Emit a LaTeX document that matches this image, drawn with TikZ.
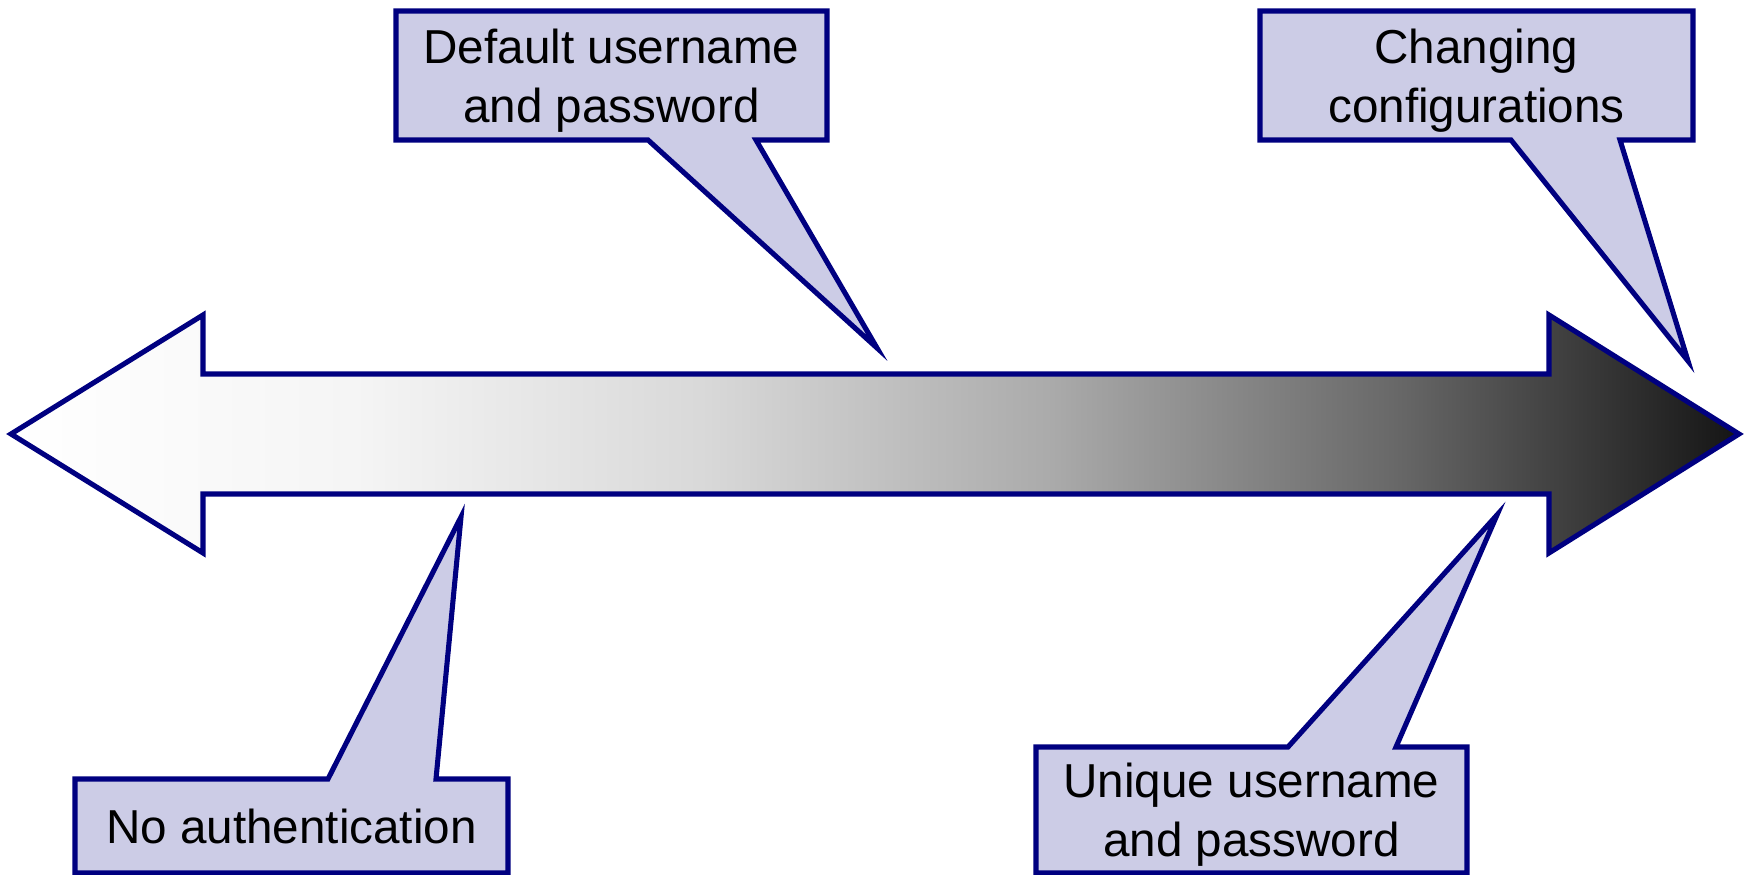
\documentclass[tikz,border=0pt]{standalone}
\usepackage{fontspec}
\setmainfont{Liberation Sans}
\usepackage{tkz-euclide}
\usetikzlibrary{calc}
\definecolor{navyline}{RGB}{0,0,128}
\definecolor{bubblefill}{RGB}{204,204,230}
\pgfdeclarehorizontalshading{arrowshade}{100bp}{color(0bp)=(white); color(25bp)=(white);
  color(35bp)=(black!4); color(45bp)=(black!15); color(55bp)=(black!33);
  color(65bp)=(black!59); color(75bp)=(black!92); color(100bp)=(black!92)}
\tikzset{bubble/.style={draw=navyline, fill=bubblefill, line width=1.45pt},
  bubbletext/.style={align=center, inner sep=0pt, text depth=0pt,
    font=\fontsize{13.55}{16.8}\selectfont}}

\begin{document}
\begin{tikzpicture}
    \useasboundingbox (0,0) rectangle (17.51,8.75);
    % double arrow
    \tkzDefPoints{0.11/4.41/Lt, 2.03/5.60/Lh, 2.03/5.01/Ls, 15.49/5.01/Rs, 15.49/5.60/Rh,
      17.39/4.41/Rt, 15.49/3.22/Rl, 15.49/3.81/Rb, 2.03/3.81/Lb, 2.03/3.22/Ll}
    \draw[draw=navyline, line width=1.45pt, shade, shading=arrowshade]
      (Lt) -- (Lh) -- (Ls) -- (Rs) -- (Rh) -- (Rt) -- (Rl) -- (Rb) -- (Lb) -- (Ll) -- cycle;
    % callouts above
    \tkzDefPoints{3.96/8.64/Da, 8.27/8.64/Db, 8.27/7.35/Dc, 7.56/7.35/Dd, 8.77/5.27/Dt,
      6.48/7.35/De, 3.96/7.35/Df}
    \draw[bubble] (Da) -- (Db) -- (Dc) -- (Dd) -- (Dt) -- (De) -- (Df) -- cycle;
    \node[bubbletext] (default) at ($(Da)!0.5!(Dc)$) {Default username\\and password};
    \tkzDefPoints{12.60/8.64/Ca, 16.93/8.64/Cb, 16.93/7.35/Cc, 16.20/7.35/Cd, 16.88/5.14/Ct,
      15.11/7.35/Ce, 12.60/7.35/Cf}
    \draw[bubble] (Ca) -- (Cb) -- (Cc) -- (Cd) -- (Ct) -- (Ce) -- (Cf) -- cycle;
    \node[bubbletext] (changing) at ($(Ca)!0.5!(Cc)$) {Changing\\configurations};
    % callouts below
    \tkzDefPoints{0.75/0.96/Na, 3.28/0.96/Nb, 4.61/3.58/Nt, 4.36/0.96/Nc, 5.08/0.96/Nd,
      5.08/0.02/Ne, 0.75/0.02/Nf}
    \draw[bubble] (Na) -- (Nb) -- (Nt) -- (Nc) -- (Nd) -- (Ne) -- (Nf) -- cycle;
    \node[bubbletext] (noauth) at ($(Na)!0.5!(Ne)$) {No authentication};
    \tkzDefPoints{10.36/1.28/Ua, 12.88/1.28/Ub, 14.97/3.60/Ut, 13.96/1.28/Uc, 14.67/1.28/Ud,
      14.67/0.02/Ue, 10.36/0.02/Uf}
    \draw[bubble] (Ua) -- (Ub) -- (Ut) -- (Uc) -- (Ud) -- (Ue) -- (Uf) -- cycle;
    \node[bubbletext] (unique) at ($(Ua)!0.5!(Ue)$) {Unique username\\and password};
\end{tikzpicture}
\end{document}
